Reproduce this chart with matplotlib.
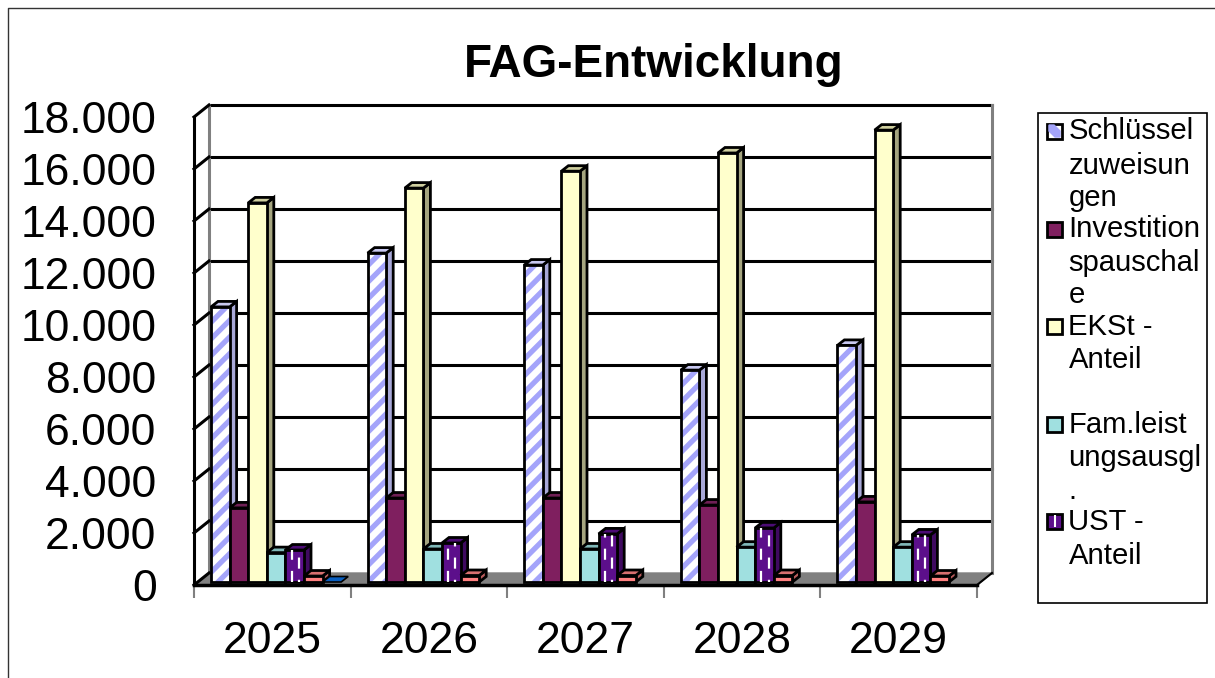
import matplotlib
matplotlib.use('Agg')
import matplotlib.pyplot as plt
from matplotlib.patches import Rectangle

plt.rcParams['font.family'] = ['Liberation Sans', 'DejaVu Sans']
plt.rcParams['hatch.linewidth'] = 3.8

years = ['2025', '2026', '2027', '2028', '2029']
schluessel = [10580, 12650, 12190, 8150, 9100]
invest = [2850, 3230, 3230, 2960, 3080]
ekst = [14580, 15150, 15800, 16500, 17380]
fam = [1130, 1270, 1270, 1340, 1340]
ust = [1230, 1500, 1850, 2080, 1810]
rot = [230, 250, 250, 250, 230]
blau = [30, 0, 0, 0, 0]
y_ticks = [0, 2000, 4000, 6000, 8000, 10000, 12000, 14000, 16000, 18000]
y_tick_labels = ['0', '2.000', '4.000', '6.000', '8.000', '10.000', '12.000', '14.000', '16.000', '18.000']

W, H = 1215, 678
fig = plt.figure(figsize=(W / 100, H / 100), dpi=100)
ax = fig.add_axes([194 / W, (H - 585) / H, 783 / W, 468 / H])
ax.set_xlim(0, 5)
ax.set_ylim(0, 18000)
ax.patch.set_visible(False)

# Pixel -> Datenwerte, fuer die 3D-Tiefe
PX = 5 / 783
PY = 18000 / 468
wall_dx, wall_dy = 15 * PX, 12 * PY
bar_dx, bar_dy = 3 * PX, 3 * PY
depth_dx, depth_dy = 7 * PX, 5.5 * PY
bar_w = 18.6 * PX
gap = 14 * PX

# Boden und Waende
ax.fill([0, 5, 5 + wall_dx, wall_dx], [0, 0, wall_dy, wall_dy], color='#808080', zorder=1, clip_on=False)
ax.plot([5, 5 + wall_dx], [0, wall_dy], color='black', lw=1.5, zorder=1.5, clip_on=False)
for v in y_ticks:
    if v > 0:
        ax.plot([wall_dx, 5 + wall_dx], [v + wall_dy] * 2, color='black', lw=2.2, zorder=1.2, clip_on=False)
    ax.plot([0, wall_dx], [v, v + wall_dy], color='black', lw=2.2, zorder=1.3, clip_on=False)
ax.plot([wall_dx] * 2, [wall_dy, 18000 + wall_dy], color='#808080', lw=2.2, zorder=1.25, clip_on=False)
ax.plot([5 + wall_dx] * 2, [wall_dy, 18000 + wall_dy], color='#808080', lw=2.2, zorder=1.25, clip_on=False)

# (Werte, Frontfarbe, Seite, Deckel)
series = [
    (schluessel, 'white', '#a8a8d8', '#c8c8f0'),
    (invest, '#7f1f5f', '#5f1747', '#6f1f55'),
    (ekst, '#ffffcc', '#a5a57f', '#cfcf9f'),
    (fam, '#a0e0e0', '#6fa5a5', '#80b8b8'),
    (ust, '#5c0f8b', '#3f0a60', '#4c0c75'),
    (rot, '#ff8080', '#b85c5c', '#d87070'),
    (blau, '#0a5fc0', '#084a90', '#0a4fa0'),
]

for s, (values, face, side, top) in enumerate(series):
    for i, v in enumerate(values):
        if v == 0:
            continue
        x0 = i + gap + s * bar_w + bar_dx
        x1 = x0 + bar_w
        z = 3 + i * 0.01 + s * 0.1
        if v < 100:
            # fast flach, nur der Deckel ist zu sehen
            ax.fill([x0, x1, x1 + depth_dx, x0 + depth_dx],
                    [bar_dy, bar_dy, bar_dy + depth_dy, bar_dy + depth_dy],
                    facecolor=face, edgecolor='black', lw=1.2, zorder=z, clip_on=False)
            continue
        ax.fill([x1, x1 + depth_dx, x1 + depth_dx, x1],
                [bar_dy, bar_dy + depth_dy, bar_dy + depth_dy + v, bar_dy + v],
                facecolor=side, edgecolor='black', lw=2, zorder=z, clip_on=False)
        ax.fill([x0, x1, x1 + depth_dx, x0 + depth_dx],
                [bar_dy + v, bar_dy + v, bar_dy + depth_dy + v, bar_dy + depth_dy + v],
                facecolor=top, edgecolor='black', lw=2, zorder=z, clip_on=False)
        if s == 0:
            ax.bar(x0, v, bar_w, bottom=bar_dy, align='edge', facecolor='white',
                   edgecolor='#a4a4fa', hatch='//', lw=0, zorder=z, clip_on=False)
            ax.bar(x0, v, bar_w, bottom=bar_dy, align='edge', fill=False,
                   edgecolor='black', lw=2, zorder=z + 0.01, clip_on=False)
        else:
            ax.bar(x0, v, bar_w, bottom=bar_dy, align='edge', color=face,
                   edgecolor='black', lw=2, zorder=z, clip_on=False)
        if s == 4:
            # weisse Striche im UST-Balken
            ax.vlines(x0 + bar_w * 0.33, bar_dy, bar_dy + v, color='white', lw=1.6,
                      linestyles=(0, (5, 5)), zorder=z + 0.02)
            ax.vlines(x0 + bar_w * 0.72, bar_dy, bar_dy + v, color='white', lw=1.6,
                      linestyles=(4, (5, 5)), zorder=z + 0.02)

# Achsen
for name in ['top', 'right']:
    ax.spines[name].set_visible(False)
ax.spines['left'].set_linewidth(2.2)
ax.spines['left'].set_zorder(2)
ax.spines['bottom'].set_linewidth(2.5)
ax.spines['bottom'].set_zorder(2)
ax.set_yticks(y_ticks, y_tick_labels, fontsize=32)
ax.tick_params(axis='y', length=0, pad=27)
ax.set_xticks(range(6))
ax.set_xticklabels([])
ax.tick_params(axis='x', length=9, width=1.5, color='#808080')
ax.set_xticks([i + 0.5 for i in range(5)], years, fontsize=32, minor=True)
ax.tick_params(axis='x', which='minor', length=0, pad=26)

fig.text(654 / W, 1 - 65 / H, 'FAG-Entwicklung', fontsize=33, fontweight='bold', ha='center', va='center')

# Rahmen aussen (oben und links)
fig.add_artist(plt.Line2D([8 / W, 8 / W, 1], [0, 1 - 8 / H, 1 - 8 / H], color='#333333', lw=1))

# Legende, die letzten Eintraege sind im Original abgeschnitten
lax = fig.add_axes([0, 0, 1, 1], zorder=5)
lax.set_xlim(0, W)
lax.set_ylim(H, 0)
lax.axis('off')
lax.patch.set_visible(False)
lax.add_patch(Rectangle((1038, 113), 169, 490, facecolor='white', edgecolor='black', lw=1.2))

legend_lines = [
    ('Schlüssel', 131), ('zuweisun', 166), ('gen', 198),
    ('Investition', 229), ('spauschal', 263), ('e', 295),
    ('EKSt -', 327), ('Anteil', 360),
    ('Fam.leist', 425), ('ungsausgl', 458), ('.', 491),
    ('UST -', 522), ('Anteil', 556),
]
for txt, y in legend_lines:
    lax.text(1068.5, y, txt, fontsize=21.1, ha='left', va='center')

swatch_y = [131, 229, 326, 424, 521]
swatch_c = ['white', '#7f1f5f', '#ffffcc', '#a0e0e0', '#5c0f8b']
for y, c in zip(swatch_y, swatch_c):
    lax.add_patch(Rectangle((1047, y - 7.5), 15, 15, facecolor=c, edgecolor='black', lw=2))
lax.fill([1049, 1054, 1060, 1060, 1055, 1049], [125, 125, 131, 137, 137, 131], color='#a4a4fa', zorder=3)
lax.vlines(1054.5, 515, 527, color='white', lw=1.5, zorder=3)

fig.savefig('out.png', dpi=100)
